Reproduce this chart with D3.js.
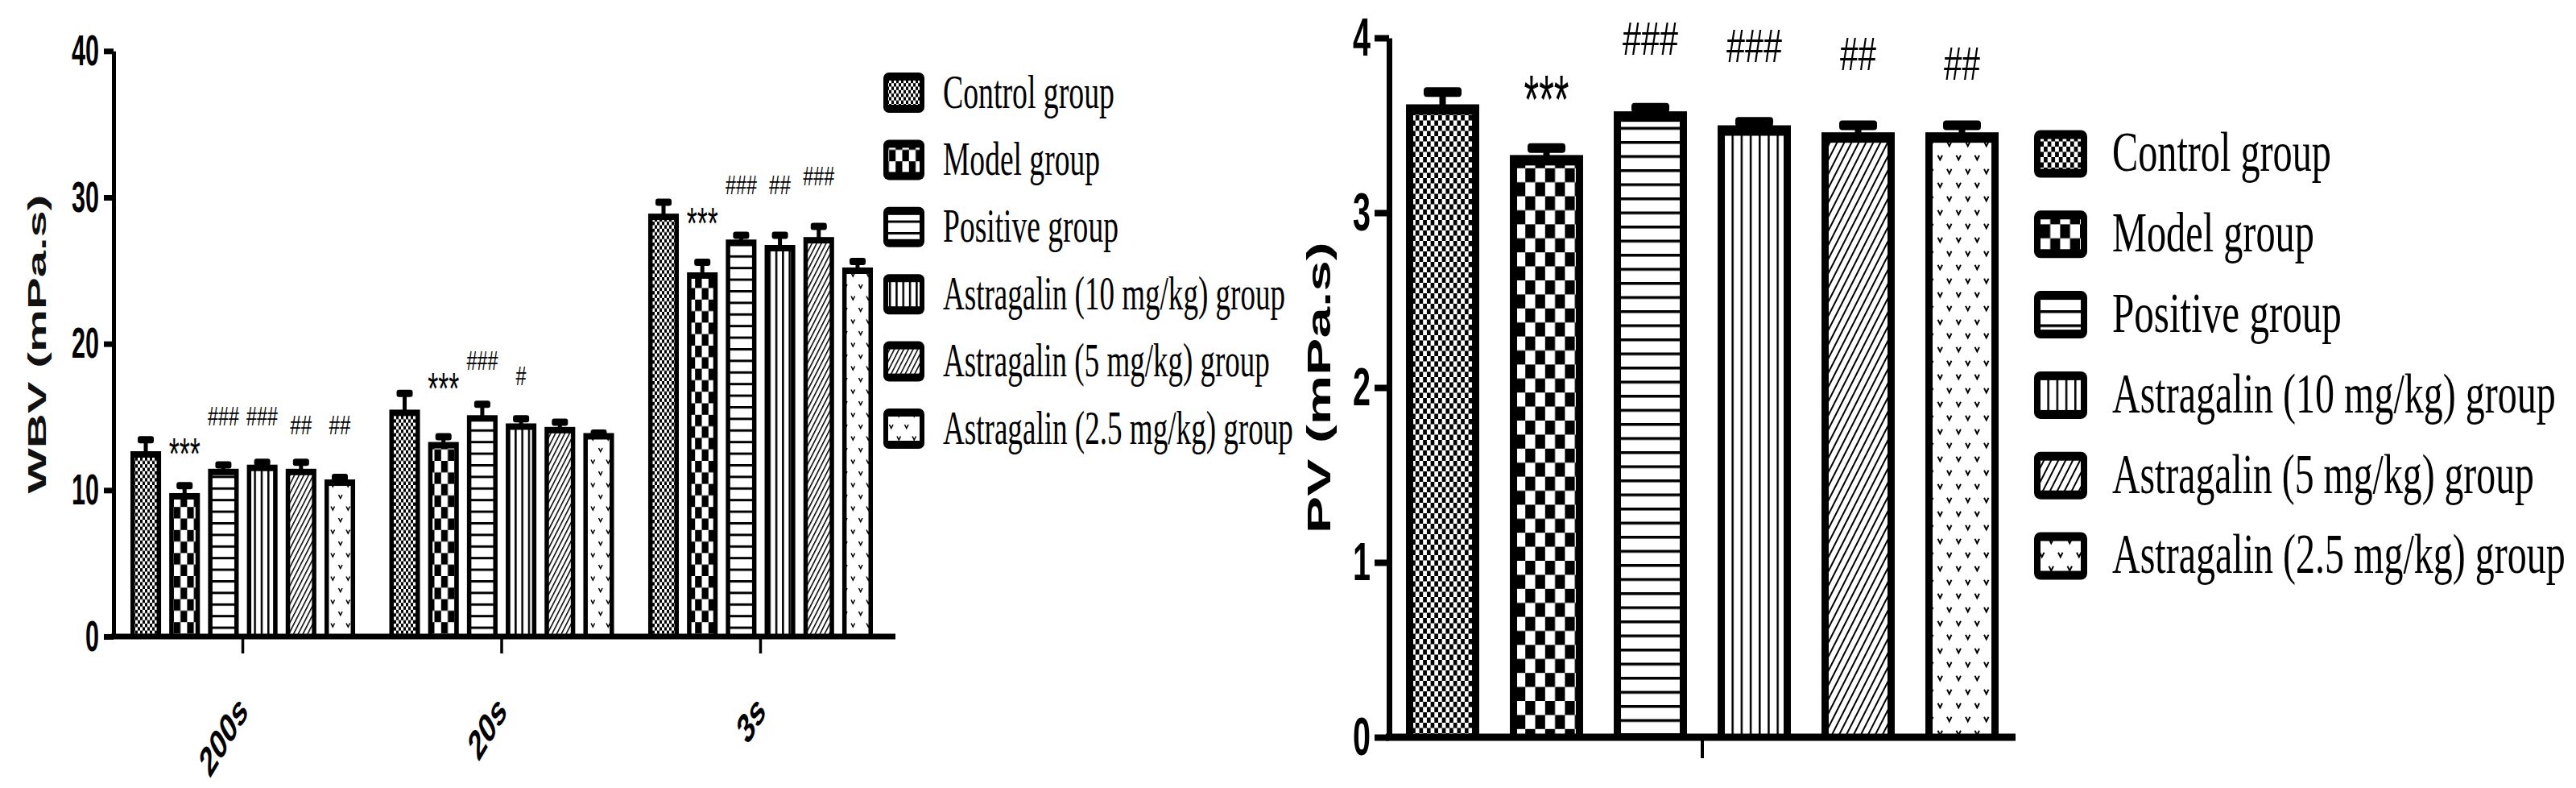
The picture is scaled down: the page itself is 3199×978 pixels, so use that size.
<!DOCTYPE html>
<html>
<head>
<meta charset="utf-8">
<script src="https://cdn.jsdelivr.net/npm/d3@7"></script>
<style>
  body { margin: 0; background: #fff; }
</style>
</head>
<body>
<svg id="chart" width="3199" height="978"></svg>
<script>
  // ---- data ----
  var groups = ['200s', '20s', '3s'];
  var series = ['Control group', 'Model group', 'Positive group',
    'Astragalin (10 mg/kg) group', 'Astragalin (5 mg/kg) group', 'Astragalin (2.5 mg/kg) group'];
  var patternKeys = ['control', 'model', 'positive', 'a10', 'a5', 'a25'];

  // whole blood viscosity, rows = shear rate group, cols = series
  var wbvMean = [
    [12.44, 9.58, 11.24, 11.52, 11.24, 10.51],
    [15.28, 13.07, 14.90, 14.34, 14.10, 13.68],
    [28.67, 24.66, 26.90, 26.53, 27.07, 24.99]
  ];
  var wbvErr = [
    [1.00, 0.72, 0.48, 0.39, 0.67, 0.36],
    [1.33, 0.58, 0.96, 0.54, 0.54, 0.22],
    [1.00, 0.91, 0.51, 0.88, 0.95, 0.63]
  ];
  var wbvMarks = [
    ['', '***', '###', '###', '##', '##'],
    ['', '***', '###', '#', '', ''],
    ['', '***', '###', '##', '###', '']
  ];
  var wbvMarkLevel = [
    [0, 11.45, 14.4, 14.4, 13.8, 13.8],
    [0, 15.9, 18.2, 17.2, 0, 0],
    [0, 27.2, 30.2, 30.2, 30.8, 0]
  ];
  var wbvTicks = [0, 10, 20, 30, 40];

  // plasma viscosity
  var pvMean = [3.59, 3.30, 3.55, 3.47, 3.43, 3.43];
  var pvErr = [0.10, 0.07, 0.05, 0.05, 0.07, 0.07];
  var pvMarks = ['', '***', '###', '###', '##', '##'];
  var pvMarkLevel = [0, 3.51, 3.905, 3.864, 3.817, 3.762];
  var pvTicks = [0, 1, 2, 3, 4];

  var SANS = '"Liberation Sans", Arial, sans-serif';
  var SERIF = '"Liberation Serif", "Times New Roman", serif';

  var svg = d3.select('#chart');
  var defs = svg.append('defs');

  // squeeze a text node horizontally to a target width (the source figure is narrow-stretched)
  function fit(node, width, base) {
    var k = width / node.getComputedTextLength();
    node.setAttribute('transform', (base || '') + ' scale(' + k + ',1)');
  }

  // ---- fill patterns (GraphPad style) ----
  function addPatterns(prefix, p) {
    function mk(key, w, h, tr) {
      var pat = defs.append('pattern')
        .attr('id', prefix + '-' + key)
        .attr('patternUnits', 'userSpaceOnUse')
        .attr('width', w).attr('height', h);
      if (tr) pat.attr('patternTransform', tr);
      pat.append('rect').attr('width', w).attr('height', h).attr('fill', '#fff');
      return pat;
    }
    function checker(pat, w, h) {
      pat.append('rect').attr('x', 0).attr('y', 0).attr('width', w / 2).attr('height', h / 2).attr('fill', '#000');
      pat.append('rect').attr('x', w / 2).attr('y', h / 2).attr('width', w / 2).attr('height', h / 2).attr('fill', '#000');
    }
    checker(mk('control', p.control[0], p.control[1]), p.control[0], p.control[1]);
    checker(mk('model', p.model[0], p.model[1]), p.model[0], p.model[1]);

    var pos = mk('positive', 10, p.positive[0]);
    pos.append('rect').attr('width', 10).attr('height', p.positive[1]).attr('fill', '#000');

    var a10 = mk('a10', p.a10[0], 10);
    a10.append('rect').attr('width', p.a10[1]).attr('height', 10).attr('fill', '#000');

    var a5 = mk('a5', p.a5[0], 10, 'rotate(' + p.a5[2] + ')');
    a5.append('rect').attr('width', p.a5[1]).attr('height', 10).attr('fill', '#000');

    var w = p.a25[0], h = p.a25[1], s = p.a25[2];
    var a25 = mk('a25', w, h);
    [[w / 4, h / 4], [3 * w / 4, 3 * h / 4]].forEach(function (c) {
      a25.append('path')
        .attr('d', 'M' + (c[0] - s / 2) + ',' + (c[1] - s / 2) + 'L' + c[0] + ',' + (c[1] + s / 2) + 'L' + (c[0] + s / 2) + ',' + (c[1] - s / 2))
        .attr('fill', 'none').attr('stroke', '#000').attr('stroke-width', s * 0.35);
    });
  }

  addPatterns('L', {
    control: [6, 8.6], model: [16.6, 28.6], positive: [14.4, 3],
    a10: [8.3, 2.5], a5: [5.2, 1.5, 27], a25: [19, 29, 4.5]
  });
  addPatterns('R', {
    control: [9.4, 13], model: [24.6, 34.8], positive: [17.5, 3.5],
    a10: [11.2, 2.5], a5: [8, 2, 27], a25: [23, 34, 5.5]
  });

  function bar(g, x, w, v, y, side, top, pid) {
    var yTop = y(v) - top / 2;
    var yBase = y(0);
    g.append('rect').attr('x', x).attr('y', yTop).attr('width', w).attr('height', yBase - yTop).attr('fill', '#000');
    g.append('rect').attr('x', x + side).attr('y', yTop + top).attr('width', w - 2 * side)
      .attr('height', Math.max(0, yBase - yTop - top)).attr('fill', 'url(#' + pid + ')');
  }

  function errBar(g, cx, v, e, y, top, stemW, capW, capH) {
    var yCap = y(v + e);
    var yTop = y(v) - top / 2;
    g.append('rect').attr('x', cx - stemW / 2).attr('y', yCap).attr('width', stemW)
      .attr('height', Math.max(0, yTop - yCap + 1)).attr('fill', '#000');
    g.append('rect').attr('x', cx - capW / 2).attr('y', yCap - capH / 2).attr('width', capW)
      .attr('height', capH).attr('rx', capH / 3).attr('fill', '#000');
  }

  function mark(g, cx, yPos, txt, sizes) {
    if (!txt) return;
    var star = txt.charAt(0) === '*';
    var t = g.append('text')
      .attr('text-anchor', 'middle')
      .attr('font-family', SANS)
      .attr('font-size', star ? sizes.star : sizes.hash)
      .attr('fill', '#000')
      .text(txt);
    fit(t.node(), sizes.width[txt], 'translate(' + cx + ',' + yPos + ')');
  }

  function legend(g, x0, yc0, step, sw, sh, rx, insetX, insetY, textX, fs, widths, prefix) {
    series.forEach(function (s, i) {
      var yc = yc0 + i * step;
      g.append('rect').attr('x', x0).attr('y', yc - sh / 2).attr('width', sw).attr('height', sh)
        .attr('rx', rx).attr('fill', '#000');
      g.append('rect').attr('x', x0 + insetX).attr('y', yc - sh / 2 + insetY)
        .attr('width', sw - 2 * insetX).attr('height', sh - 2 * insetY)
        .attr('fill', 'url(#' + prefix + '-' + patternKeys[i] + ')');
      var t = g.append('text')
        .attr('font-family', SERIF).attr('font-size', fs)
        .attr('fill', '#000').text(s);
      fit(t.node(), widths[i], 'translate(' + textX + ',' + (yc + fs * 0.31) + ')');
    });
  }

  function styleYTicks(yAxis, fs, digitW) {
    yAxis.selectAll('.tick text')
      .attr('font-family', SANS).attr('font-weight', 'bold').attr('font-size', fs).attr('fill', '#000')
      .each(function (d) {
        var x = +this.getAttribute('x');
        this.setAttribute('x', 0);
        fit(this, String(d).length * digitW, 'translate(' + x + ',0)');
      });
  }

  // ================= LEFT: WBV =================
  (function () {
    var g = svg.append('g');
    var y = d3.scaleLinear().domain([0, 40]).range([790, 63.3]);
    var x0 = d3.scaleBand().domain(groups).range([141, 1105]).paddingInner(0.132).paddingOuter(0.0653);
    var x1 = d3.scaleBand().domain(series).range([0, x0.bandwidth()]).paddingInner(0.21);

    groups.forEach(function (grp, gi) {
      series.forEach(function (s, si) {
        var bx = x0(grp) + x1(s);
        var bw = x1.bandwidth();
        bar(g, bx, bw, wbvMean[gi][si], y, 5.5, 8, 'L-' + patternKeys[si]);
        errBar(g, bx + bw / 2, wbvMean[gi][si], wbvErr[gi][si], y, 8, 5, 20, 9);
        mark(g, bx + bw / 2, y(wbvMarkLevel[gi][si]), wbvMarks[gi][si],
          { star: 55, hash: 34, width: { '***': 39, '###': 39, '##': 27, '#': 13 } });
      });
    });

    // x axis line
    g.append('rect').attr('x', 138).attr('y', y(0) - 3.5).attr('width', 1112 - 138).attr('height', 7).attr('fill', '#000');

    var xAxis = g.append('g').attr('transform', 'translate(0,' + (y(0) + 3) + ')')
      .call(d3.axisBottom(x0).tickSize(18).tickSizeOuter(0));
    xAxis.select('.domain').remove();
    xAxis.selectAll('.tick line').attr('stroke', '#000').attr('stroke-width', 3.5);
    // rotated -45deg, then squeezed in x like the source image: matrix(0.6*c, -s, 0.6*s, c, dx, dy)
    xAxis.selectAll('.tick text')
      .attr('y', null).attr('dy', null)
      .attr('text-anchor', 'end')
      .attr('font-family', SANS).attr('font-weight', 'bold').attr('font-size', 52).attr('fill', '#000')
      .attr('transform', 'matrix(0.4243,-0.7071,0.4243,0.7071,8,92)');

    var yAxis = g.append('g').attr('transform', 'translate(141,0)')
      .call(d3.axisLeft(y).tickValues(wbvTicks).tickSize(12).tickSizeOuter(0).tickPadding(6).tickFormat(d3.format('d')));
    yAxis.select('.domain').attr('stroke', '#000').attr('stroke-width', 5);
    yAxis.selectAll('.tick line').attr('stroke', '#000').attr('stroke-width', 7);
    styleYTicks(yAxis, 54, 17);

    var title = g.append('text')
      .attr('text-anchor', 'middle')
      .attr('font-family', SANS).attr('font-weight', 'bold').attr('font-size', 32)
      .attr('fill', '#111')
      .text('WBV  (mPa.s)');
    // along the text the source is stretched, so scale >1 along its length
    fit(title.node(), 371, 'translate(57,427) rotate(-90)');

    legend(g, 1097, 115, 83.4, 51, 50, 7, 6, 10, 1171, 60,
      [213, 195, 218, 425, 406, 435], 'L');
  })();

  // ================= RIGHT: PV =================
  (function () {
    var g = svg.append('g');
    var y = d3.scaleLinear().domain([0, 4]).range([915, 47]);
    var x = d3.scaleBand().domain(series).range([1725, 2503]).paddingInner(0.295).paddingOuter(0.163);

    series.forEach(function (s, si) {
      var bx = x(s);
      var bw = x.bandwidth();
      bar(g, bx, bw, pvMean[si], y, 9, 13, 'R-' + patternKeys[si]);
      errBar(g, bx + bw / 2, pvMean[si], pvErr[si], y, 13, 8, 47, 12);
      mark(g, bx + bw / 2, y(pvMarkLevel[si]), pvMarks[si],
        { star: 86, hash: 58, width: { '***': 56, '###': 69, '##': 45, '#': 22 } });
    });

    g.append('rect').attr('x', 1721).attr('y', y(0) - 4.5).attr('width', 2503 - 1721).attr('height', 9).attr('fill', '#000');

    var xAxis = g.append('g').attr('transform', 'translate(0,' + (y(0) + 4) + ')')
      .call(d3.axisBottom(d3.scaleBand().domain(['PV']).range([1725, 2503])).tickSize(22).tickSizeOuter(0).tickFormat(''));
    xAxis.select('.domain').remove();
    xAxis.selectAll('.tick line').attr('stroke', '#000').attr('stroke-width', 4);

    var yAxis = g.append('g').attr('transform', 'translate(1725,0)')
      .call(d3.axisLeft(y).tickValues(pvTicks).tickSize(18).tickSizeOuter(0).tickPadding(5).tickFormat(d3.format('d')));
    yAxis.select('.domain').attr('stroke', '#000').attr('stroke-width', 7);
    yAxis.selectAll('.tick line').attr('stroke', '#000').attr('stroke-width', 8);
    styleYTicks(yAxis, 67, 22);

    var title = g.append('text')
      .attr('text-anchor', 'middle')
      .attr('font-family', SANS).attr('font-weight', 'bold').attr('font-size', 41)
      .attr('fill', '#000')
      .text('PV  (mPa.s)');
    fit(title.node(), 362, 'translate(1652,481) rotate(-90)');

    legend(g, 2526, 191, 99.8, 66, 59, 8, 8, 11, 2623, 69,
      [272, 251, 285, 551, 524, 563], 'R');
  })();
</script>
</body>
</html>
